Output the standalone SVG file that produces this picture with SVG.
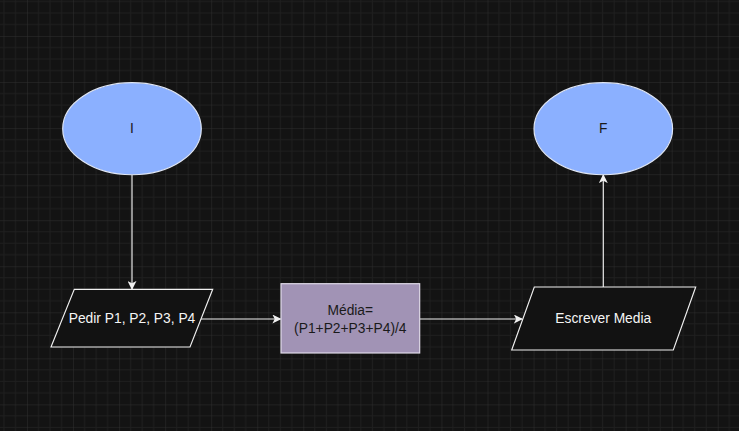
<svg xmlns="http://www.w3.org/2000/svg" width="739" height="431" viewBox="0 0 739 431">
<defs>
<pattern id="grid" patternUnits="userSpaceOnUse" x="27" y="36" width="46.05" height="46.05">
<path d="M11.51 0V46.05M23.02 0V46.05M34.54 0V46.05M0 11.51H46.05M0 23.02H46.05M0 34.54H46.05" stroke="#1f1f1f" stroke-width="1" fill="none"/>
<path d="M0 0V46.05M0 0H46.05" stroke="#2f2f2f" stroke-width="1" fill="none"/>
</pattern>
<marker id="arr" viewBox="0 0 10 10" refX="9" refY="5" markerWidth="9" markerHeight="9" markerUnits="userSpaceOnUse" orient="auto">
<path d="M0 0L10 5L0 10L2.5 5Z" fill="#f0f0f0"/>
</marker>
<style>
.term{fill:#8bb0ff;stroke:#dfe6f5;stroke-width:1.15}
.io{fill:#121212;stroke:#f0f0f0;stroke-width:1.15}
.proc{fill:#a193b5;stroke:#e4deec;stroke-width:1.15}
.edge{fill:none;stroke:#f0f0f0;stroke-width:1.15;marker-end:url(#arr)}
text{font-family:"Liberation Sans",Arial,sans-serif;font-size:13.8px;text-anchor:middle;dominant-baseline:central}
.dark{fill:#1a1a1a}
.light{fill:#f5f5f5}
</style>
</defs>
<rect width="739" height="431" fill="#131313"/>
<rect width="739" height="431" fill="url(#grid)"/>
<g id="connectors">
<path class="edge" d="M132 175V289"/>
<path class="edge" d="M201 319H280.5"/>
<path class="edge" d="M420 319H522"/>
<path class="edge" d="M603.3 287V175"/>
</g>
<g id="node-inicio">
<ellipse class="term" cx="132" cy="128.7" rx="69.3" ry="46"/>
<text class="dark" x="132" y="128.7">I</text>
</g>
<g id="node-fim">
<ellipse class="term" cx="603.3" cy="128.7" rx="69.3" ry="46"/>
<text class="dark" x="603.3" y="128.7">F</text>
</g>
<g id="node-pedir">
<polygon class="io" points="74.3,289.3 212.7,289.3 190,347 51,347"/>
<text class="light" x="132" y="318.5">Pedir P1, P2, P3, P4</text>
</g>
<g id="node-media">
<rect class="proc" x="281" y="283.7" width="138.7" height="69.3"/>
<text class="dark" x="350.3" y="310.5">Média=</text>
<text class="dark" x="350.3" y="328">(P1+P2+P3+P4)/4</text>
</g>
<g id="node-escrever">
<polygon class="io" points="534.3,287 695.7,287 673.3,350 511.7,350"/>
<text class="light" x="603.3" y="318.5">Escrever Media</text>
</g>
</svg>
